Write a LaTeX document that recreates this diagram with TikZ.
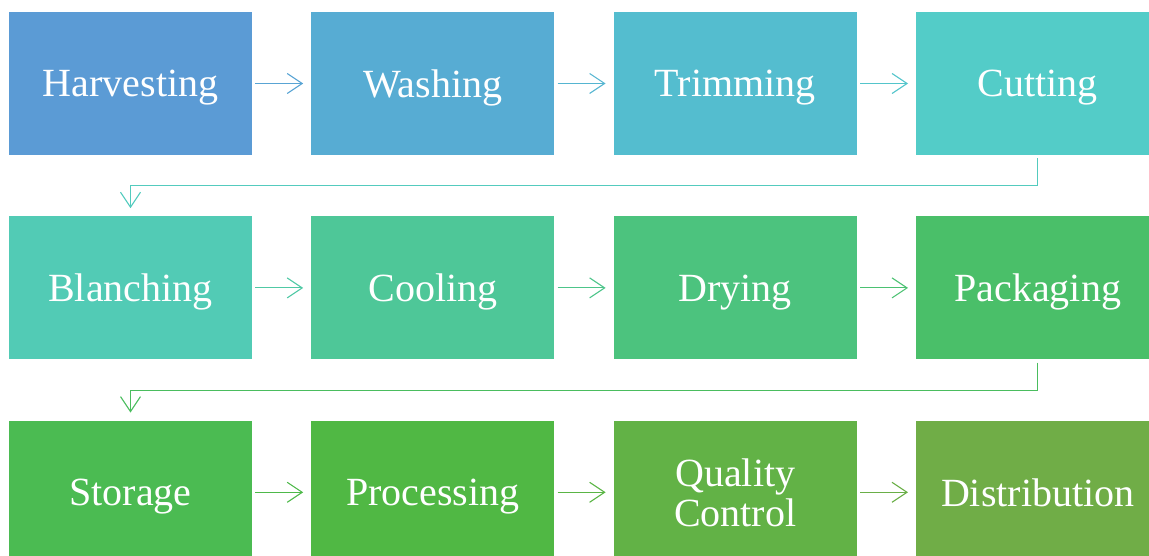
\documentclass[tikz,border=0pt]{standalone}
\usepackage{fontspec}
\setmainfont{Liberation Serif}
\usetikzlibrary{positioning, calc, arrows.meta}
\definecolor{harvestblue}{RGB}{91,155,213}
\definecolor{washblue}{RGB}{87,172,211}
\definecolor{trimteal}{RGB}{84,189,207}
\definecolor{cutteal}{RGB}{83,204,200}
\definecolor{blanchteal}{RGB}{82,203,181}
\definecolor{coolgreen}{RGB}{78,199,152}
\definecolor{drygreen}{RGB}{76,195,126}
\definecolor{packgreen}{RGB}{74,191,105}
\definecolor{storegreen}{RGB}{75,187,82}
\definecolor{procgreen}{RGB}{80,184,68}
\definecolor{qualgreen}{RGB}{98,178,70}
\definecolor{distgreen}{RGB}{112,173,71}

\tikzset{
  stage/.style={minimum width=243pt, minimum height=143pt, inner sep=0pt,
    text=white, align=center, text depth=0pt, font=\fontsize{40}{40}\selectfont},
  flow/.style={line width=1.1pt, shorten <=3pt, shorten >=8pt,
    -{Straight Barb[length=15pt, width=20pt, line width=1.1pt]}},
}

\begin{document}
\begin{tikzpicture}
\useasboundingbox (0pt,0pt) rectangle (1149pt,-556pt);

% first row
\node[stage, fill=harvestblue] (harv) at (130.5pt,-83.5pt) {Harvesting};
\node[stage, fill=washblue, right=59pt of harv] (wash) {Washing};
\node[stage, fill=trimteal, right=59pt of wash] (trim) {Trimming};
\node[stage, fill=cutteal, right=59pt of trim] (cut) {Cutting};

% second row
\node[stage, fill=blanchteal, below=61pt of harv] (blan) {Blanching};
\node[stage, fill=coolgreen, right=59pt of blan] (cool) {Cooling};
\node[stage, fill=drygreen, right=59pt of cool] (dry) {Drying};
\node[stage, fill=packgreen, right=59pt of dry] (pack) {Packaging};

% third row
\node[stage, fill=storegreen, below=61pt of blan] (store) {Storage};
\node[stage, fill=procgreen, right=59pt of store] (proc) {Processing};
\node[stage, fill=qualgreen, right=59pt of proc] (qual) {Quality\\Control};
\node[stage, fill=distgreen, right=59pt of qual] (dist) {Distribution};

% arrows along the rows
\draw[flow, harvestblue!45!washblue] (harv) -- (wash);
\draw[flow, washblue!45!trimteal] (wash) -- (trim);
\draw[flow, trimteal!45!cutteal] (trim) -- (cut);
\draw[flow, blanchteal!45!coolgreen] (blan) -- (cool);
\draw[flow, coolgreen!45!drygreen] (cool) -- (dry);
\draw[flow, drygreen!45!packgreen] (dry) -- (pack);
\draw[flow, storegreen!45!procgreen] (store) -- (proc);
\draw[flow, procgreen!45!qualgreen] (proc) -- (qual);
\draw[flow, qualgreen!45!distgreen] (qual) -- (dist);

% wrap from the end of one row to the start of the next
\coordinate (turnA) at ($(cut.south)!.5!(blan.north)$);
\coordinate (turnB) at ($(pack.south)!.5!(store.north)$);
\draw[flow, cutteal!50!blanchteal] (cut.south) -- (cut.south |- turnA) -| (blan.north);
\draw[flow, packgreen!50!storegreen] (pack.south) -- (pack.south |- turnB) -| (store.north);
\end{tikzpicture}
\end{document}
